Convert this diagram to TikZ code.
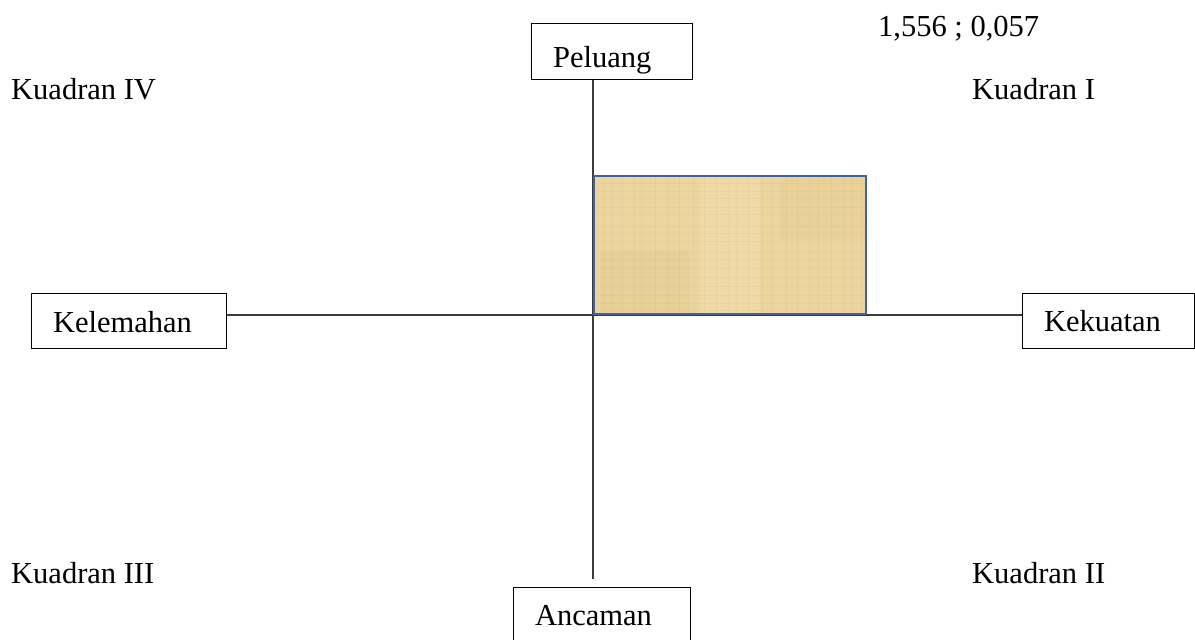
\documentclass[tikz,border=0pt]{standalone}
\usepackage{fontspec}
\setmainfont{Liberation Serif}
\definecolor{axisgray}{RGB}{60,60,60}
\definecolor{zoneblue}{RGB}{65,98,160}
\definecolor{papyrus}{RGB}{236,213,158}
\definecolor{papyrusdark}{RGB}{214,186,120}
\definecolor{papyruslight}{RGB}{245,228,185}
\tikzset{
  lbl/.style={inner sep=0pt, anchor=base west},
  axisline/.style={draw=axisgray, line width=1.1pt},
  sidebox/.style={draw=black, line width=1.1pt, anchor=north west,
    inner xsep=21.5pt, inner ysep=0pt, align=left}
}
\begin{document}
\begin{tikzpicture}[x=1pt, y=-1pt, font=\fontsize{30.5}{36}\selectfont]
  \useasboundingbox (0,0) rectangle (1195,640);

  % the four strategy boxes
  \node[sidebox, text width=118pt, text height=44pt, text depth=12pt] (peluang) at (531,23) {Peluang};
  \node[sidebox, text width=152pt, text height=39pt, text depth=16pt] (kelemahan) at (31,293) {Kelemahan};
  \node[sidebox, text width=129pt, text height=38pt, text depth=17pt] (kekuatan) at (1022,293) {Kekuatan};
  \node[sidebox, text width=134pt, text height=38pt, text depth=24pt] (ancaman) at (513,587) {Ancaman};

  % axes
  \coordinate (vx) at (593,0);
  \coordinate (vend) at (593,579);
  \coordinate (hy) at (0,315);
  \draw[axisline] (peluang.south -| vx) -- (vend);
  \draw[axisline] (kelemahan.east |- hy) -- (kekuatan.west |- hy);

  % position zone in quadrant I, with a papyrus-like texture
  \begin{scope}
    \clip (594,176) rectangle (866,314);
    \fill[papyrus] (594,176) rectangle (866,314);
    \fill[papyruslight, opacity=0.35] (700,176) rectangle (760,314);
    \fill[papyrusdark, opacity=0.15] (600,250) rectangle (690,314);
    \fill[papyrusdark, opacity=0.12] (780,176) rectangle (866,240);
    \foreach \x in {603,611,622,634,641,655,668,679,693,704,716,729,737,748,762,771,786,797,809,818,831,843,852,861}
      \draw[papyrusdark, opacity=0.25, line width=0.6pt] (\x,176) -- (\x,314);
    \foreach \y in {183,191,198,207,214,226,233,241,252,259,268,277,286,295,303,310}
      \draw[papyrusdark, opacity=0.22, line width=0.6pt] (594,\y) -- (866,\y);
  \end{scope}
  \draw[zoneblue, line width=2.5pt] (594,176) rectangle (866,314);

  % labels
  \node[lbl] (coord) at (878,36) {1,556 ; 0,057};
  \node[lbl] (q4) at (11,99) {Kuadran IV};
  \node[lbl] (q1) at (972,99) {Kuadran I};
  \node[lbl] (q3) at (11,583) {Kuadran III};
  \node[lbl] (q2) at (972,583) {Kuadran II};
\end{tikzpicture}
\end{document}
